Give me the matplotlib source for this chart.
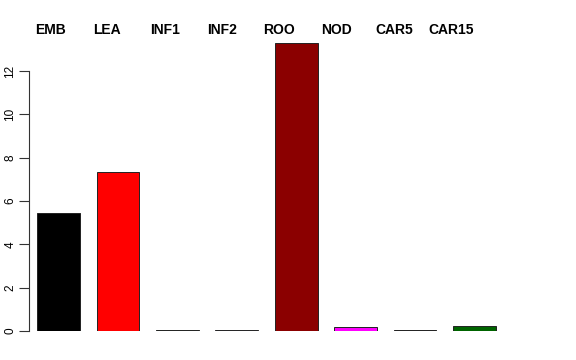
import numpy as np
import matplotlib.pyplot as plt

# -------------------------
# Data
# -------------------------
tissues = ["EMB", "LEA", "INF1", "INF2", "ROO", "NOD", "CAR5", "CAR15"]
values = [5.45, 7.36, 0.05, 0.03, 13.3, 0.18, 0.05, 0.25]
colors = ["black", "red", "#3b4a3b", "#c0c0d8", "darkred", "magenta", "#101020", "darkgreen"]
yticks = [0, 2, 4, 6, 8, 10, 12]

plt.rcParams["font.family"] = ["Liberation Sans", "DejaVu Sans"]

W, H = 576, 360
fig = plt.figure(figsize=(W / 100, H / 100), dpi=100)
ax = fig.add_axes([29 / W, 29 / H, 475 / W, 301 / H])

x = np.arange(len(tissues))
ax.bar(x, values, width=0.72, color=colors, edgecolor="#222222", linewidth=0.7)

ax.set_xlim(-0.5, len(tissues) - 0.5)
ax.set_ylim(0, 13.9)

for side in ["top", "right", "bottom"]:
    ax.spines[side].set_visible(False)
ax.spines["left"].set_bounds(0, 12)
ax.spines["left"].set_linewidth(0.8)
ax.spines["left"].set_color("#333333")

ax.set_xticks([])
ax.set_yticks(yticks)
ax.set_yticklabels([str(t) for t in yticks], rotation=90, va="center", fontsize=8.5)
ax.tick_params(axis="y", length=7, width=0.8, pad=2, color="#333333")

# tissue names along the top
for i, name in enumerate(tissues):
    fig.text((50 + 57.3 * i) / W, 1 - 30 / H, name, ha="center", va="center",
             fontsize=10, fontweight="bold")

fig.savefig("out.png", dpi=100)
